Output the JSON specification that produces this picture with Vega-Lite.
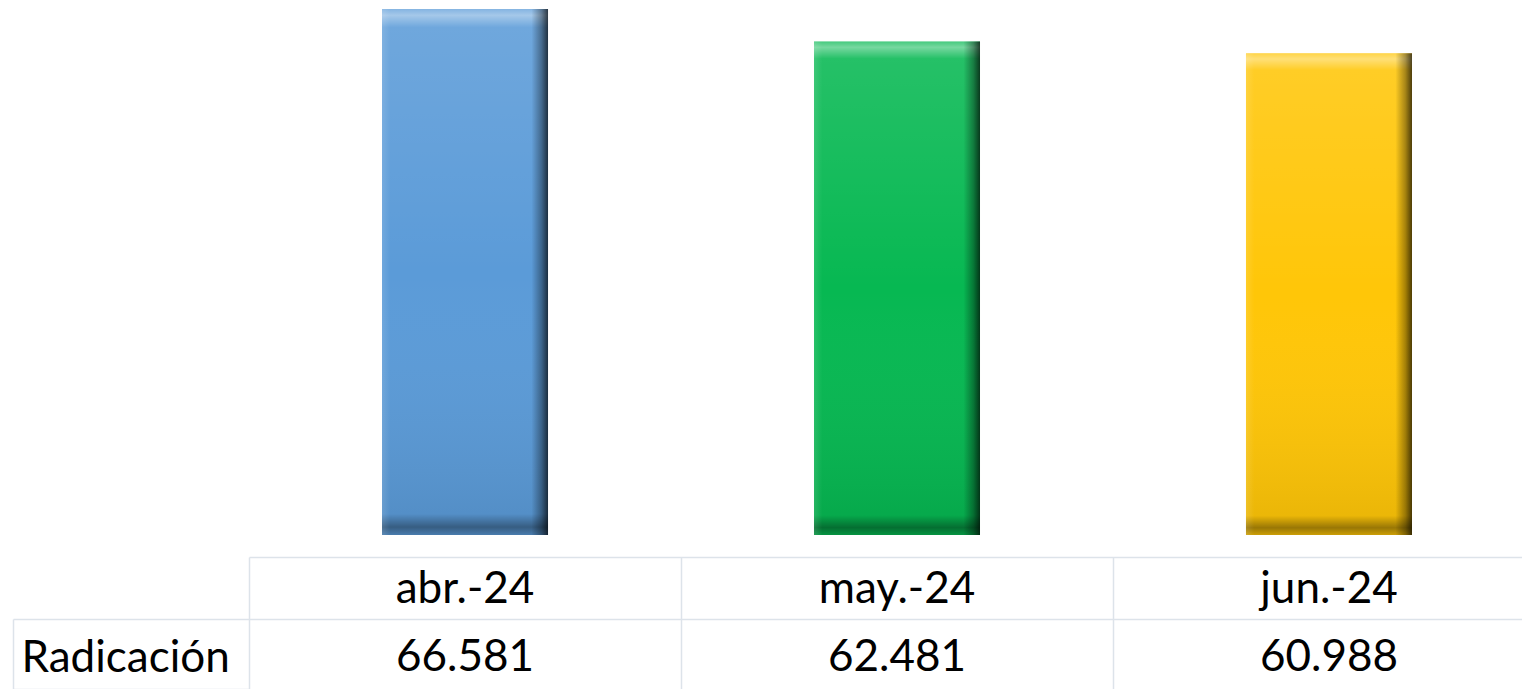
{
  "$schema": "https://vega.github.io/schema/vega-lite/v6.json",
  "padding": {"left": 12, "top": 0, "right": 0, "bottom": 0},
  "spacing": 22,
  "bounds": "flush",
  "config": {
    "view": {"stroke": null},
    "font": "Lato",
    "locale": {"number": {"decimal": ",", "thousands": ".", "grouping": [3], "currency": ["$", ""]}}
  },
  "data": {"values": [
    {"mes": "abr.-24", "radicacion": 66581},
    {"mes": "may.-24", "radicacion": 62481},
    {"mes": "jun.-24", "radicacion": 60988}
  ]},
  "vconcat": [
    {
      "width": 1274,
      "height": 535,
      "encoding": {
        "x": {"field": "mes", "type": "nominal", "sort": null, "scale": {"range": [0, 1296], "paddingInner": 0.6157, "paddingOuter": 0.3079}, "axis": null},
        "y": {"field": "radicacion", "type": "quantitative", "scale": {"domain": [0, 67720], "nice": false}, "axis": null}
      },
      "layer": [
        {
          "mark": {"type": "bar"},
          "encoding": {"color": {"field": "mes", "type": "nominal", "sort": null, "scale": {"range": ["#5b9bd8", "#07b852", "#ffc608"]}, "legend": null}}
        },
        {
          "mark": {"type": "bar", "fill": {"gradient": "linear", "x1": 0, "y1": 0, "x2": 0, "y2": 1, "stops": [
            {"offset": 0, "color": "rgba(255,255,255,0.25)"},
            {"offset": 0.012, "color": "rgba(255,255,255,0.45)"},
            {"offset": 0.035, "color": "rgba(255,255,255,0.12)"},
            {"offset": 0.5, "color": "rgba(255,255,255,0)"},
            {"offset": 0.96, "color": "rgba(0,0,0,0.08)"},
            {"offset": 0.985, "color": "rgba(0,0,0,0.4)"},
            {"offset": 1, "color": "rgba(0,0,0,0.2)"}
          ]}}
        },
        {
          "mark": {"type": "bar", "fill": {"gradient": "linear", "x1": 0, "y1": 0, "x2": 1, "y2": 0, "stops": [
            {"offset": 0, "color": "rgba(255,255,255,0.12)"},
            {"offset": 0.05, "color": "rgba(255,255,255,0)"},
            {"offset": 0.9, "color": "rgba(0,0,0,0)"},
            {"offset": 0.96, "color": "rgba(0,0,0,0.35)"},
            {"offset": 1, "color": "rgba(0,0,0,0.7)"}
          ]}}
        }
      ]
    },
    {
      "width": 1274,
      "height": 132,
      "resolve": {"scale": {"y": "independent"}, "axis": {"y": "independent"}},
      "encoding": {
        "x": {"field": "mes", "type": "nominal", "sort": null, "scale": {"range": [0, 1296], "paddingInner": 0, "paddingOuter": 0},
          "axis": {"orient": "top", "grid": true, "tickBand": "extent", "labels": false, "ticks": false, "domain": false, "title": null, "gridColor": "#dde3ea", "gridWidth": 1.5}}
      },
      "layer": [
        {
          "mark": {"type": "text", "fontSize": 44, "baseline": "alphabetic", "dy": 15, "color": "#000"},
          "encoding": {
            "y": {"datum": "header", "type": "nominal", "scale": {"domain": ["header", "Radicación"], "range": [0, 132], "paddingInner": 0, "paddingOuter": 0.0645, "align": 0},
              "axis": {"orient": "left", "grid": true, "tickBand": "extent",
                "gridColor": {"condition": {"test": "datum.index == 1", "value": "transparent"}, "value": "#dde3ea"},
                "gridWidth": 1.5, "domain": false, "title": null, "ticks": false, "labels": false}},
            "text": {"field": "mes", "type": "nominal"}
          }
        },
        {
          "mark": {"type": "text", "fontSize": 44, "baseline": "alphabetic", "dy": 17, "color": "#000"},
          "encoding": {
            "y": {"datum": "Radicación", "type": "nominal", "scale": {"domain": ["Radicación"], "range": [62, 132], "paddingInner": 0, "paddingOuter": 0},
              "axis": {"orient": "left", "offset": 236, "grid": false, "tickBand": "extent", "title": null,
                "domain": true, "domainColor": "#dde3ea", "domainWidth": 1.5,
                "ticks": true, "tickSize": -236, "tickWidth": 1.5,
                "tickColor": {"condition": {"test": "datum.index == 1", "value": "transparent"}, "value": "#dde3ea"},
                "labelAlign": "left", "labelPadding": 228, "labelOffset": 17, "labelBaseline": "alphabetic",
                "labelFontSize": 44, "labelColor": "#000", "labelFont": "Lato", "labelLimit": 0}},
            "text": {"field": "radicacion", "type": "quantitative", "format": ",.0f"}
          }
        }
      ]
    }
  ]
}
